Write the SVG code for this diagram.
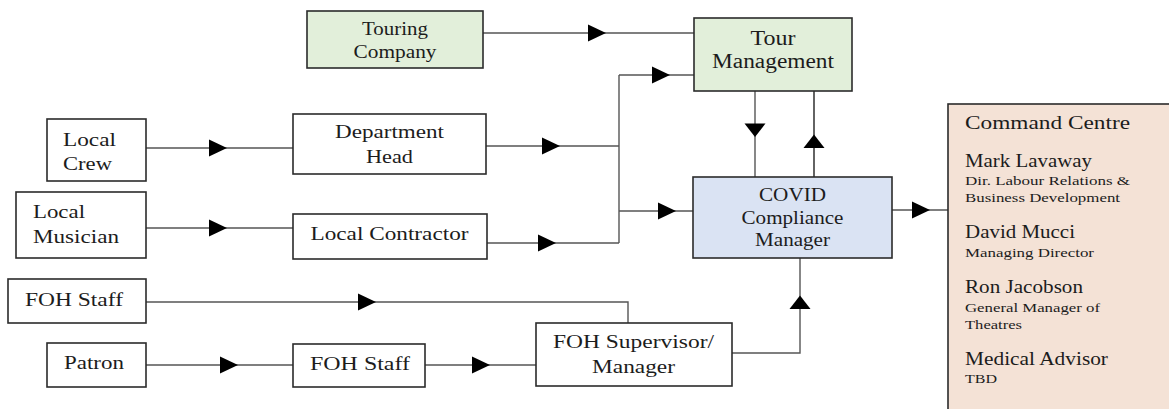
<svg xmlns="http://www.w3.org/2000/svg" xmlns:xlink="http://www.w3.org/1999/xlink" width="1169" height="409" viewBox="0 0 1169 409" font-family="'Liberation Serif', 'Times New Roman', Times, serif">
<style>
.box{fill:#ffffff;stroke:#2b2b2b;stroke-width:1.6}
.green{fill:#e2efda}
.blue{fill:#dae3f3}
.peach{fill:#f4e2d6}
text{font-family:'Liberation Serif','Times New Roman',Times,serif;fill:#1c1c1c}
.t{font-size:19px}
.s{font-size:13px}
.m{text-anchor:middle}
.ln{fill:none;stroke:#555555;stroke-width:1.4}
.ah{fill:#000000}
</style>
<defs>
<path id="ar" d="M0,-8.5 L18,0 L0,8.5 Z"/>
<path id="ad" d="M-10.5,0 L10.5,0 L0,13.5 Z"/>
<path id="au" d="M-10.5,0 L10.5,0 L0,-13.5 Z"/>
</defs>
<rect width="1169" height="409" fill="#ffffff"/>

<g id="connectors">
<path class="ln" d="M483,33 H694"/>
<path class="ln" d="M146,148 H293"/>
<path class="ln" d="M486,146 H619"/>
<path class="ln" d="M146,228 H293"/>
<path class="ln" d="M487,243 H619"/>
<path class="ln" d="M619,75 V243"/>
<path class="ln" d="M619,75 H694"/>
<path class="ln" d="M619,211 H693"/>
<path class="ln" d="M755,91 V177"/>
<path class="ln" d="M814,177 V91" style="stroke:#222"/>
<path class="ln" d="M892,210 H948"/>
<path class="ln" d="M146,302 H628 V323"/>
<path class="ln" d="M146,365 H293"/>
<path class="ln" d="M425,365 H536"/>
<path class="ln" d="M732,353 H800 V258"/>
<g class="ah">
<use xlink:href="#ar" x="588" y="33"/>
<use xlink:href="#ar" x="209" y="148"/>
<use xlink:href="#ar" x="542" y="146"/>
<use xlink:href="#ar" x="209" y="228"/>
<use xlink:href="#ar" x="538" y="243"/>
<use xlink:href="#ar" x="652" y="75"/>
<use xlink:href="#ar" x="658" y="211"/>
<use xlink:href="#ad" x="755" y="123.5"/>
<use xlink:href="#au" x="814" y="148"/>
<use xlink:href="#ar" x="912" y="210"/>
<use xlink:href="#ar" x="358" y="302"/>
<use xlink:href="#ar" x="220" y="365"/>
<use xlink:href="#ar" x="472" y="365"/>
<use xlink:href="#au" x="800" y="309"/>
</g>
</g>

<g id="touring-company">
<rect class="box green" x="307" y="11" width="176" height="57"/>
<text class="t m" x="395" y="35" textLength="66" lengthAdjust="spacingAndGlyphs">Touring</text>
<text class="t m" x="395" y="58" textLength="83" lengthAdjust="spacingAndGlyphs">Company</text>
</g>

<g id="tour-management">
<rect class="box green" x="694" y="18" width="158" height="73"/>
<text class="t m" x="773" y="45" style="font-size:20px" textLength="45" lengthAdjust="spacingAndGlyphs">Tour</text>
<text class="t m" x="773" y="68" style="font-size:20px" textLength="122" lengthAdjust="spacingAndGlyphs">Management</text>
</g>

<g id="local-crew">
<rect class="box" x="47" y="119" width="99" height="62"/>
<text class="t" x="63" y="146" textLength="53" lengthAdjust="spacingAndGlyphs">Local</text>
<text class="t" x="63" y="170" textLength="49" lengthAdjust="spacingAndGlyphs">Crew</text>
</g>

<g id="department-head">
<rect class="box" x="293" y="114" width="193" height="60"/>
<text class="t m" x="389.5" y="138" textLength="109" lengthAdjust="spacingAndGlyphs">Department</text>
<text class="t m" x="389.5" y="163" textLength="47" lengthAdjust="spacingAndGlyphs">Head</text>
</g>

<g id="local-musician">
<rect class="box" x="16" y="192" width="130" height="66"/>
<text class="t" x="33" y="218" textLength="52" lengthAdjust="spacingAndGlyphs">Local</text>
<text class="t" x="33" y="243" textLength="86" lengthAdjust="spacingAndGlyphs">Musician</text>
</g>

<g id="local-contractor">
<rect class="box" x="293" y="214" width="194" height="45"/>
<text class="t m" x="389.5" y="240" textLength="158" lengthAdjust="spacingAndGlyphs">Local Contractor</text>
</g>

<g id="covid-compliance-manager">
<rect class="box blue" x="693" y="177" width="199" height="81"/>
<text class="t m" x="792.5" y="201" style="font-size:18px" textLength="67" lengthAdjust="spacingAndGlyphs">COVID</text>
<text class="t m" x="792.5" y="223.5" style="font-size:18px" textLength="102" lengthAdjust="spacingAndGlyphs">Compliance</text>
<text class="t m" x="792.5" y="246" style="font-size:18px" textLength="75" lengthAdjust="spacingAndGlyphs">Manager</text>
</g>

<g id="foh-staff-1">
<rect class="box" x="8" y="279" width="138" height="44"/>
<text class="t" x="25" y="306" textLength="98" lengthAdjust="spacingAndGlyphs">FOH Staff</text>
</g>

<g id="patron">
<rect class="box" x="47" y="343" width="99" height="44"/>
<text class="t" x="64" y="369" textLength="60" lengthAdjust="spacingAndGlyphs">Patron</text>
</g>

<g id="foh-staff-2">
<rect class="box" x="293" y="344" width="132" height="43"/>
<text class="t" x="310" y="370" textLength="100" lengthAdjust="spacingAndGlyphs">FOH Staff</text>
</g>

<g id="foh-supervisor">
<rect class="box" x="536" y="323" width="196" height="63"/>
<text class="t m" x="633.5" y="348" style="font-size:18px" textLength="161" lengthAdjust="spacingAndGlyphs">FOH Supervisor/</text>
<text class="t m" x="633.5" y="373" style="font-size:18px" textLength="83" lengthAdjust="spacingAndGlyphs">Manager</text>
</g>

<g id="command-centre">
<rect class="box peach" x="948" y="104" width="240" height="320"/>
<text class="t" x="965" y="129" textLength="165" lengthAdjust="spacingAndGlyphs">Command Centre</text>
<text class="t" x="965" y="167" textLength="127" lengthAdjust="spacingAndGlyphs">Mark Lavaway</text>
<text class="s" x="965" y="185" textLength="165" lengthAdjust="spacingAndGlyphs">Dir. Labour Relations &amp;</text>
<text class="s" x="965" y="202" textLength="155" lengthAdjust="spacingAndGlyphs">Business Development</text>
<text class="t" x="965" y="238" textLength="110" lengthAdjust="spacingAndGlyphs">David Mucci</text>
<text class="s" x="965" y="257" textLength="129" lengthAdjust="spacingAndGlyphs">Managing Director</text>
<text class="t" x="965" y="293" textLength="118" lengthAdjust="spacingAndGlyphs">Ron Jacobson</text>
<text class="s" x="965" y="312" textLength="135" lengthAdjust="spacingAndGlyphs">General Manager of</text>
<text class="s" x="965" y="329" textLength="57" lengthAdjust="spacingAndGlyphs">Theatres</text>
<text class="t" x="965" y="365" textLength="143" lengthAdjust="spacingAndGlyphs">Medical Advisor</text>
<text class="s" x="965" y="383" textLength="32" lengthAdjust="spacingAndGlyphs">TBD</text>
</g>
</svg>
